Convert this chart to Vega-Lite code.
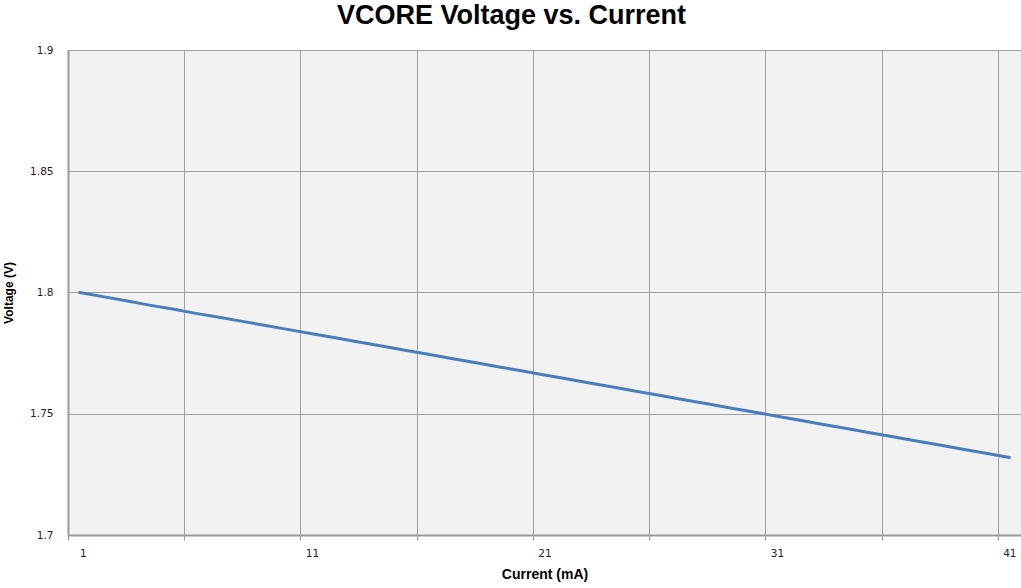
{
  "$schema": "https://vega.github.io/schema/vega-lite/v6.json",
  "autosize": {"type": "none"},
  "width": 953,
  "height": 485,
  "padding": {"left": 68, "top": 50, "right": 0, "bottom": 53},
  "background": "white",
  "title": {
    "text": "VCORE Voltage vs. Current",
    "font": "Liberation Sans",
    "fontSize": 27,
    "fontWeight": "bold",
    "color": "#000000",
    "anchor": "middle",
    "frame": "group",
    "offset": 15,
    "dx": -33
  },
  "config": {
    "view": {"fill": "#f2f2f2", "stroke": "#a6a6a6", "strokeWidth": 1},
    "axis": {
      "labelFont": "DejaVu Sans",
      "labelFontSize": 10.5,
      "labelColor": "#222222",
      "titleFont": "Liberation Sans",
      "titleFontSize": 14,
      "titleFontWeight": "bold",
      "titleColor": "#000000",
      "gridColor": "#a0a0a0",
      "gridWidth": 1,
      "gridOpacity": 1,
      "domainColor": "#9a9a9a",
      "domainWidth": 2,
      "tickColor": "#9a9a9a"
    }
  },
  "data": {
    "values": [
      {"current": 1, "voltage": 1.8000},
      {"current": 2, "voltage": 1.7983},
      {"current": 3, "voltage": 1.7966},
      {"current": 4, "voltage": 1.7948},
      {"current": 5, "voltage": 1.7932},
      {"current": 6, "voltage": 1.7914},
      {"current": 7, "voltage": 1.7898},
      {"current": 8, "voltage": 1.7881},
      {"current": 9, "voltage": 1.7864},
      {"current": 10, "voltage": 1.7847},
      {"current": 11, "voltage": 1.7830},
      {"current": 12, "voltage": 1.7813},
      {"current": 13, "voltage": 1.7796},
      {"current": 14, "voltage": 1.7779},
      {"current": 15, "voltage": 1.7762},
      {"current": 16, "voltage": 1.7745},
      {"current": 17, "voltage": 1.7728},
      {"current": 18, "voltage": 1.7711},
      {"current": 19, "voltage": 1.7694},
      {"current": 20, "voltage": 1.7677},
      {"current": 21, "voltage": 1.7660},
      {"current": 22, "voltage": 1.7643},
      {"current": 23, "voltage": 1.7626},
      {"current": 24, "voltage": 1.7609},
      {"current": 25, "voltage": 1.7592},
      {"current": 26, "voltage": 1.7575},
      {"current": 27, "voltage": 1.7558},
      {"current": 28, "voltage": 1.7541},
      {"current": 29, "voltage": 1.7524},
      {"current": 30, "voltage": 1.7507},
      {"current": 31, "voltage": 1.7490},
      {"current": 32, "voltage": 1.7473},
      {"current": 33, "voltage": 1.7456},
      {"current": 34, "voltage": 1.7439},
      {"current": 35, "voltage": 1.7422},
      {"current": 36, "voltage": 1.7405},
      {"current": 37, "voltage": 1.7388},
      {"current": 38, "voltage": 1.7371},
      {"current": 39, "voltage": 1.7354},
      {"current": 40, "voltage": 1.7337},
      {"current": 41, "voltage": 1.7320}
    ]
  },
  "mark": {"type": "line", "color": "#4a7ebb", "strokeWidth": 3, "strokeCap": "round", "strokeJoin": "round"},
  "encoding": {
    "x": {
      "field": "current",
      "type": "quantitative",
      "scale": {"domain": [0.5, 41.5], "nice": false, "zero": false},
      "axis": {
        "title": "Current (mA)",
        "values": [0.5, 5.5, 10.5, 15.5, 20.5, 25.5, 30.5, 35.5, 40.5],
        "labelExpr": "(datum.value - 0.5) % 10 == 0 ? format(datum.value + 0.5, 'd') : ''",
        "labelOffset": 11.6,
        "labelPadding": 8,
        "tickSize": 5,
        "grid": true,
        "titlePadding": 9
      }
    },
    "y": {
      "field": "voltage",
      "type": "quantitative",
      "scale": {"domain": [1.7, 1.9], "nice": false, "zero": false},
      "axis": {
        "title": "Voltage (V)",
        "titleFontSize": 12,
        "values": [1.7, 1.75, 1.8, 1.85, 1.9],
        "format": "~g",
        "ticks": false,
        "labelPadding": 15,
        "grid": true,
        "titlePadding": 14
      }
    }
  }
}
